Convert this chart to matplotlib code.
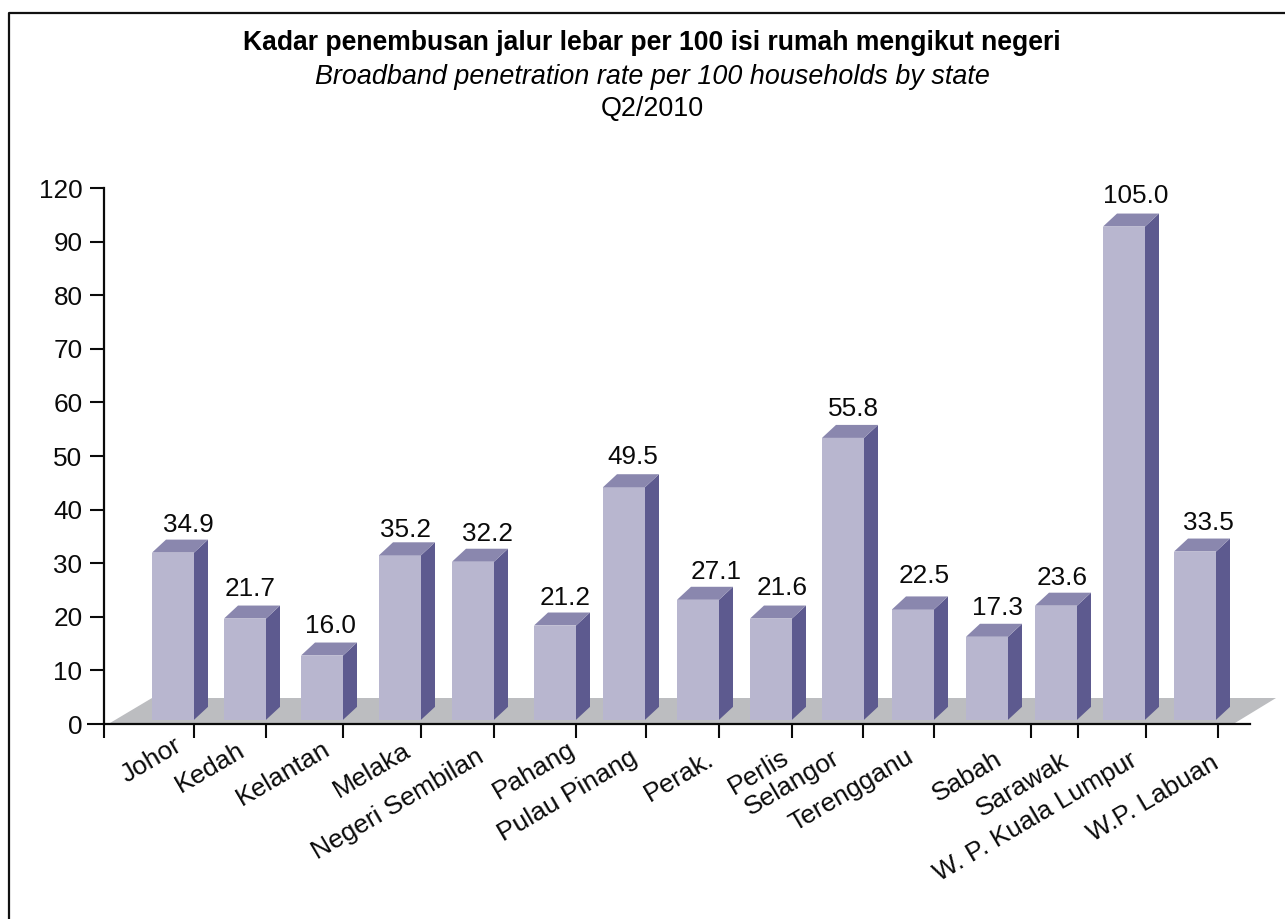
import numpy as np
import matplotlib
matplotlib.use("Agg")
import matplotlib.pyplot as plt
from matplotlib.lines import Line2D
from matplotlib.patches import Polygon
from matplotlib.transforms import Affine2D, IdentityTransform

plt.rcParams['font.family'] = ['Liberation Sans', 'DejaVu Sans']

# Data
states = ['Johor', 'Kedah', 'Kelantan', 'Melaka', 'Negeri Sembilan', 'Pahang', 'Pulau Pinang',
          'Perak.', 'Perlis', 'Selangor', 'Terengganu', 'Sabah', 'Sarawak',
          'W. P. Kuala Lumpur', 'W.P. Labuan']
printed_values = ['34.9', '21.7', '16.0', '35.2', '32.2', '21.2', '49.5', '27.1', '21.6',
                  '55.8', '22.5', '17.3', '23.6', '105.0', '33.5']
# bar heights as read against the (broken) y axis
bar_heights = [34.4, 22.1, 15.2, 33.9, 32.7, 20.8, 46.6, 25.6, 22.1, 55.8, 23.8, 18.7, 24.5, 105.7, 34.6]
y_ticks = [0, 10, 20, 30, 40, 50, 60, 70, 80, 90, 120]

# Layout (pixels)
bar_left = [152, 224, 301, 379, 452, 534, 603, 677, 750, 822, 892, 966, 1035, 1103, 1174]
bar_width = 42
tick_x = [194, 266, 343, 421, 494, 576, 646, 719, 792, 863, 934, 1031, 1078, 1146, 1218]
label_dx = [-14, -23, -15, -12, -12, -3, -11, -7, -5, -25, -23, -31, -11, -11, -1]
label_dy = [-6, -10, -9, -11, -17, -10, -18, -19, -18, -18, -17, -19, -21, -20, -23]
value_cx = [188, 250, 330, 405, 487, 565, 633, 716, 782, 853, 924, 997, 1062, 1136, 1208]
value_gap = [15, 17, 17, 12, 15, 15, 17, 15, 18, 16, 20, 16, 15, 18, 16]

W, H = 1285, 919
DEPTH_X, DEPTH_Y = 14, 13
BASE = 3.2
FRONT = '#b8b6cf'
SIDE = '#5d5a8f'
TOP = '#8a87ae'
FLOOR = '#bcbdc0'
INK = '#0a0a0a'
FS = 18.8


def fwd(v):
    v = np.asarray(v, dtype=float)
    return np.where(v <= 90, v, 90 + (v - 90) / 3)


def inv(u):
    u = np.asarray(u, dtype=float)
    return np.where(u <= 90, u, 90 + (u - 90) * 3)


def px(x, y):
    return (x, H - y)


fig = plt.figure(figsize=(W / 100, H / 100), dpi=100, facecolor='white')
ax = fig.add_axes([104 / W, (H - 724) / H, (1250 - 104) / W, (724 - 188) / H])
ax.set_xlim(104, 1250)
ax.set_yscale('function', functions=(fwd, inv))
ax.set_ylim(0, 120)
ax.patch.set_alpha(0)

for s in ('top', 'right'):
    ax.spines[s].set_visible(False)
for s in ('left', 'bottom'):
    ax.spines[s].set_linewidth(1.6)
    ax.spines[s].set_color(INK)

ax.set_yticks(y_ticks, labels=[str(t) for t in y_ticks])
ax.yaxis.set_minor_locator(plt.NullLocator())
ax.tick_params(axis='y', length=10, width=1.5, color=INK, labelsize=FS, pad=5.5, labelcolor=INK)
ax.yaxis.get_major_ticks()[0].tick1line.set_markersize(12.2)

ax.set_xticks([104] + tick_x, labels=[''] + states, rotation=30.5, ha='right', va='center',
              rotation_mode='anchor')
ax.tick_params(axis='x', length=10, width=1.5, color=INK, labelsize=19, pad=0, labelcolor=INK)
for lab, dx, dy in zip(ax.get_xticklabels()[1:], label_dx, label_dy):
    lab.set_transform(lab.get_transform() + Affine2D().translate(dx, dy))

# Floor
ax.add_patch(Polygon([px(110, 723), px(152, 698), px(1276, 698), px(1235, 723)], closed=True,
                     facecolor=FLOOR, edgecolor='none', transform=IdentityTransform(),
                     clip_on=False, zorder=0.5))

# Bars
front_t = ax.transData + Affine2D().translate(0, -DEPTH_Y)
fig.canvas.draw()
ax.bar(bar_left, np.array(bar_heights) - BASE, bottom=BASE, width=bar_width, align='edge',
       color=FRONT, edgecolor='none', transform=front_t, zorder=3)
for left, h, cx, gap, text in zip(bar_left, bar_heights, value_cx, value_gap, printed_values):
    right = left + bar_width
    bx, by = ax.transData.transform((right, h))
    _, b0 = ax.transData.transform((right, BASE))
    lx, _ = ax.transData.transform((left, h))
    ax.add_patch(Polygon([(bx, by - DEPTH_Y), (bx + DEPTH_X, by), (bx + DEPTH_X, b0), (bx, b0 - DEPTH_Y)],
                         closed=True, facecolor=SIDE, edgecolor='none',
                         transform=IdentityTransform(), clip_on=False, zorder=3))
    ax.add_patch(Polygon([(lx, by - DEPTH_Y), (bx, by - DEPTH_Y), (bx + DEPTH_X, by), (lx + DEPTH_X, by)],
                         closed=True, facecolor=TOP, edgecolor='none',
                         transform=IdentityTransform(), clip_on=False, zorder=3))
    ax.annotate(text, xy=(cx, h), xycoords='data', xytext=(0, gap * 0.72), textcoords='offset points',
                ha='center', va='center', fontsize=FS, color=INK, annotation_clip=False, zorder=4)

# Outer frame (open at right and bottom, cut off by the picture edge)
fig.add_artist(Line2D([8.5 / W, 8.5 / W, 1], [0, (H - 13) / H, (H - 13) / H], color='#111111', lw=1.6))

# Titles
fig.text(652 / W, (H - 43) / H, 'Kadar penembusan jalur lebar per 100 isi rumah mengikut negeri',
         ha='center', va='center', fontsize=19.1, fontweight='bold', color='black')
fig.text(652 / W, (H - 77) / H, 'Broadband penetration rate per 100 households by state',
         ha='center', va='center', fontsize=19.4, fontstyle='italic', color='black')
fig.text(652 / W, (H - 109) / H, 'Q2/2010', ha='center', va='center', fontsize=19.4, color='black')

fig.savefig('out.png', dpi=100)
